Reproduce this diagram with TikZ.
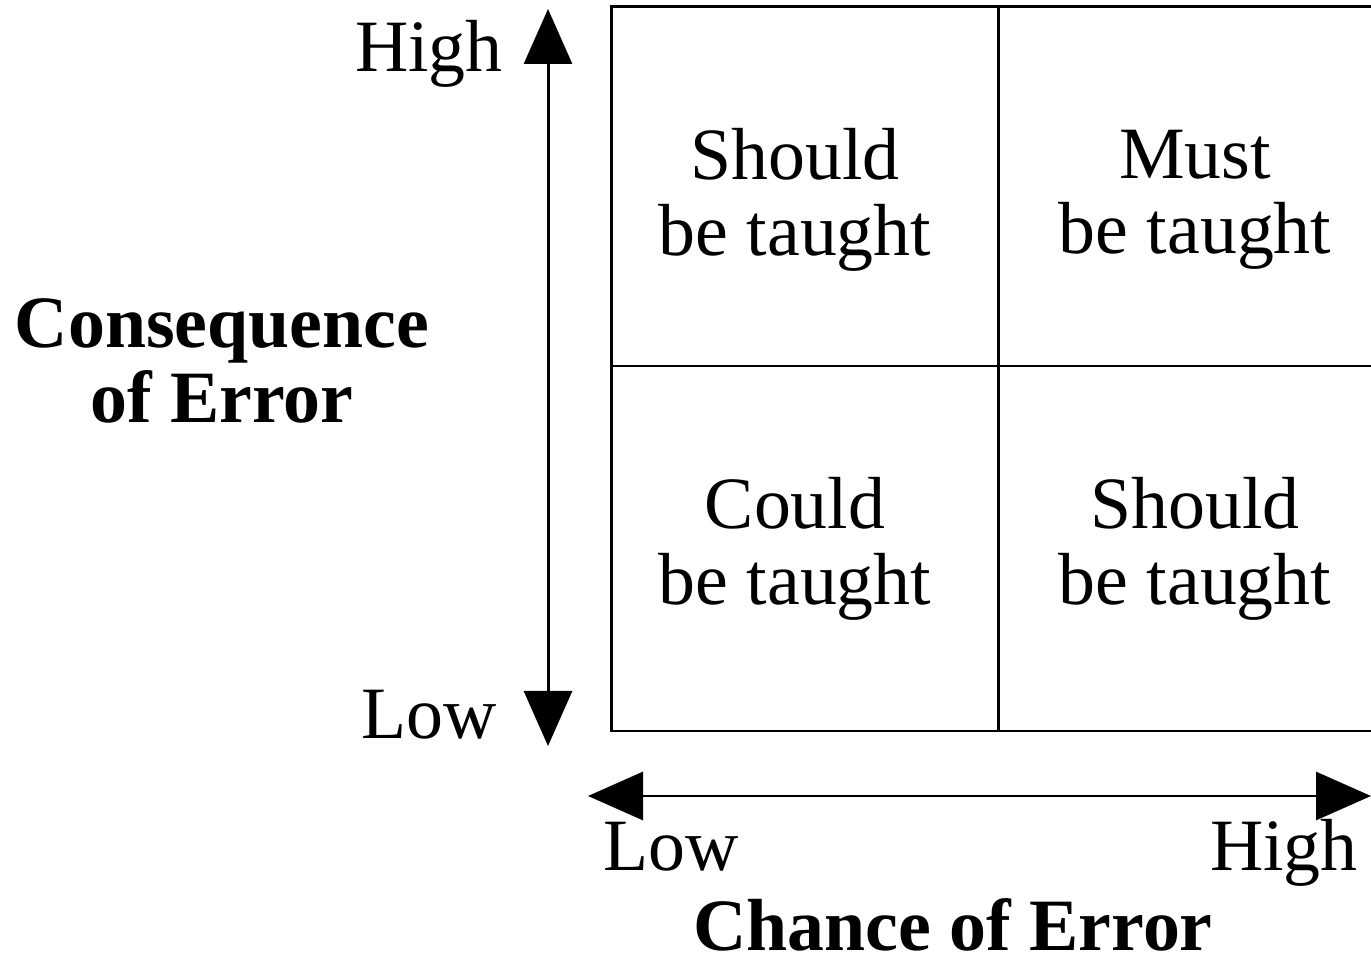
\documentclass[tikz,border=0pt]{standalone}
\usepackage{fontspec}
\setmainfont{Liberation Serif}
\usetikzlibrary{arrows.meta}
\tikzset{
  txt/.style={font=\fontsize{42}{43}\selectfont,inner sep=0pt,align=center},
  axis/.style={line width=1.7pt,{Triangle[length=1.1cm,width=0.96cm]}-{Triangle[length=1.1cm,width=0.96cm]}},
}
\begin{document}
\begin{tikzpicture}
  \useasboundingbox (0,0) rectangle (27.42,19.16);
  \draw[line width=1.7pt] (12.22,4.54) rectangle (27.5,19.02);
  \draw[line width=1.7pt] (19.96,4.54) -- (19.96,19.02);
  \draw[line width=1.7pt] (12.22,11.84) -- (27.5,11.84);
  \node[txt] (shouldA) at (15.9,15.16) {Should\\be taught};
  \node[txt] (must) at (23.9,15.16) {Must\\be taught};
  \node[txt] (could) at (15.9,8.18) {Could\\be taught};
  \node[txt] (shouldB) at (23.9,8.18) {Should\\be taught};
  \coordinate (ctop) at (10.96,18.98);
  \coordinate (cbot) at (10.96,4.24);
  \coordinate (hleft) at (11.76,3.24);
  \coordinate (hright) at (27.42,3.24);
  \draw[axis] (cbot) -- (ctop);
  \draw[axis] (hleft) -- (hright);
  \node[txt,anchor=base east] (chigh) at (10.06,17.72) {High};
  \node[txt,anchor=base east] (clow) at (9.94,4.40) {Low};
  \node[txt,font=\fontsize{42}{43}\selectfont\bfseries] (cons) at (4.44,11.94) {Consequence\\of Error};
  \node[txt,anchor=base west] (hlow) at (12.06,1.76) {Low};
  \node[txt,anchor=base east] (hhigh) at (27.16,1.76) {High};
  \node[txt,font=\fontsize{42}{43}\selectfont\bfseries,anchor=base] (chance) at (19.06,0.16) {Chance of Error};
\end{tikzpicture}
\end{document}
